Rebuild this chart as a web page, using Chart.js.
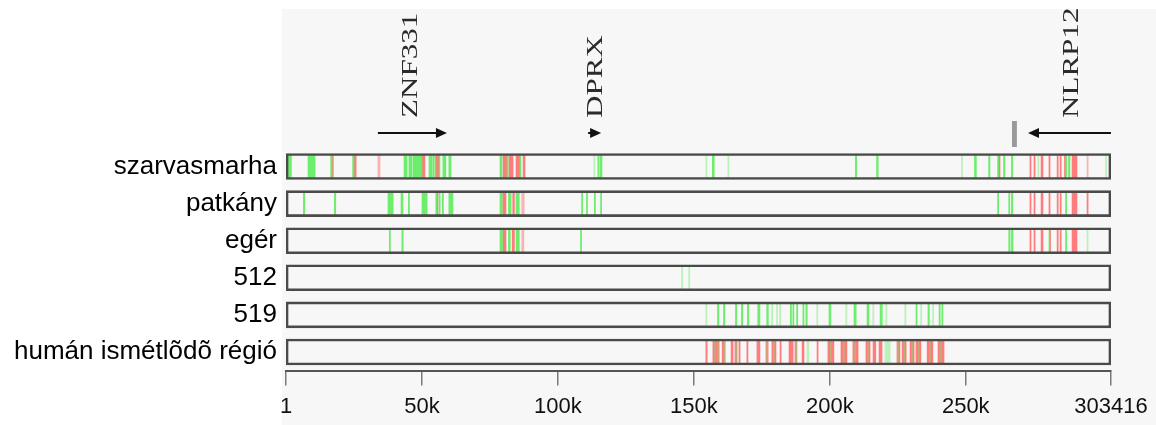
<!DOCTYPE html>
<html>
<head>
<meta charset="utf-8">
<script src="https://cdn.jsdelivr.net/npm/chart.js@4.4.1/dist/chart.umd.min.js"></script>
<style>
  html, body { margin: 0; padding: 0; background: #fff; }
  #wrap { width: 1156px; height: 425px; }
</style>
</head>
<body>
<div id="wrap"><canvas id="track-chart" width="1156" height="425"></canvas></div>
<script>
// rows (tracks), top to bottom
const rows = ['szarvasmarha', 'patkány', 'egér', '512', '519', 'humán ismétlõdõ régió'];

// axis
const xMin = 1;
const xMax = 303416;
const tickValues = [1, 50000, 100000, 150000, 200000, 250000, 303416];
const tickLabels = ['1', '50k', '100k', '150k', '200k', '250k', '303416'];

// genes above the tracks (arrow from -> to, in bp)
const geneNames = ['ZNF331', 'DPRX', 'NLRP12'];
const geneFrom = [33800, 111100, 303400];
const geneTo = [59200, 115900, 272900];
const geneLabelAt = [48200, 116200, 291300];
const markerSpan = [267000, 268800];

// hits per track, [start, end] in kb
const bovGreen = [[0.3, 2.0], [8.1, 10.7], [16.4, 16.9], [24.5, 25.0], [43.4, 44.5], [45.2, 46.3], [46.7, 50.0],
  [52.6, 53.7], [54.0, 54.5], [54.8, 55.1], [56.3, 56.6], [57.7, 58.8], [59.9, 60.7], [78.7, 79.4], [81.3, 81.7],
  [86.0, 86.4], [114.7, 115.2], [115.6, 116.2], [156.8, 157.5], [209.4, 209.9], [217.2, 217.8], [253.2, 253.9],
  [258.4, 258.9], [261.7, 262.1], [263.9, 264.4], [266.8, 267.3], [286.7, 287.1], [287.8, 288.3]];
const bovRed = [[17.0, 17.4], [25.0, 25.8], [50.0, 51.1], [55.1, 56.3], [79.8, 81.3], [82.0, 83.5], [84.6, 86.0],
  [87.2, 87.9], [262.1, 262.6], [273.6, 274.0], [275.1, 275.5], [277.7, 278.4], [280.6, 281.0], [283.6, 284.0],
  [284.7, 285.1], [286.3, 286.7], [289.1, 290.9]];
const bovFaintGreen = [[113.2, 113.6], [154.4, 154.8], [162.5, 162.9], [248.4, 248.8], [276.5, 276.9], [301.4, 301.8]];
const bovFaintRed = [[33.8, 34.6], [294.6, 295.0]];

const ratGreen = [[6.4, 6.9], [17.8, 18.3], [37.5, 39.4], [42.3, 43.0], [45.0, 45.4], [50.0, 51.9], [55.1, 55.5],
  [56.3, 56.7], [57.5, 57.9], [59.9, 61.4], [78.7, 79.5], [81.8, 82.8], [84.6, 85.8], [108.7, 109.1], [110.5, 110.9],
  [113.4, 113.8], [115.7, 116.1], [261.7, 262.1], [265.8, 266.2], [266.8, 267.3], [286.7, 287.1]];
const ratRed = [[55.5, 55.9], [79.7, 80.9], [83.4, 84.0], [273.6, 274.0], [275.1, 275.5], [277.7, 278.4], [280.6, 281.0],
  [283.6, 284.0], [284.7, 285.1], [289.1, 290.9], [294.6, 295.0]];
const ratFaintRed = [[86.7, 87.6]];

const miceGreen = [[38.0, 38.4], [42.6, 43.1], [78.7, 79.6], [81.8, 82.5], [84.6, 85.8], [108.3, 108.7], [265.8, 266.3],
  [266.8, 267.4], [280.6, 280.9], [286.7, 287.1]];
const miceRed = [[79.7, 80.9], [83.2, 84.0], [273.6, 274.0], [275.1, 275.5], [277.7, 278.4], [280.9, 281.2], [283.6, 284.0],
  [284.7, 285.1], [289.1, 290.9]];
const miceFaintGreen = [[294.6, 295.0]];
const miceFaintRed = [[86.7, 87.5]];

const c512FaintGreen = [[145.5, 145.9], [148.1, 148.5]];

const c519Green = [[158.7, 159.2], [160.9, 161.4], [165.3, 165.8], [167.5, 168.0], [169.7, 170.2], [173.5, 174.3],
  [176.8, 177.4], [185.5, 185.9], [186.4, 186.8], [187.8, 188.2], [190.1, 190.5], [191.2, 191.7], [199.7, 200.4],
  [208.9, 209.2], [209.4, 209.7], [213.7, 214.4], [218.5, 218.8], [219.0, 219.3], [231.7, 232.1], [236.1, 236.6],
  [240.2, 240.6], [241.2, 241.6]];
const c519FaintGreen = [[154.4, 154.8], [178.6, 179.0], [180.4, 180.8], [181.5, 181.9], [195.2, 195.6], [205.9, 206.3],
  [215.8, 216.2], [220.6, 221.0], [227.6, 228.0], [233.4, 233.8], [237.8, 238.2]];

const humRed = [[154.4, 154.9], [157.0, 159.3], [160.4, 161.5], [163.7, 164.4], [165.1, 165.9], [166.6, 167.0],
  [169.5, 169.9], [173.2, 174.3], [176.5, 177.3], [178.7, 180.2], [181.7, 182.1], [185.0, 186.5], [187.2, 187.9],
  [189.8, 190.5], [195.3, 195.7], [199.3, 201.5], [204.1, 206.3], [208.5, 210.4], [213.3, 214.8], [215.9, 216.9],
  [218.1, 219.2], [224.7, 225.8], [226.6, 228.1], [229.5, 231.0], [231.7, 233.5], [235.8, 237.9], [239.8, 242.0]];
const humFaintGreen = [[157.6, 158.0], [158.6, 159.0], [161.0, 161.4], [165.3, 165.7], [176.8, 177.2], [179.2, 179.6],
  [187.4, 187.8], [191.6, 192.3], [200.2, 200.6], [205.0, 205.4], [209.1, 209.5], [213.8, 214.2], [220.3, 222.2],
  [225.0, 225.4], [227.2, 227.6], [230.1, 230.5], [232.4, 232.8], [236.6, 237.0], [240.6, 241.0]];

function marks(row, spans) {
    return spans.map(s => ({ x: [s[0] * 1000, s[1] * 1000], y: rows[row] }));
}

const greenData = [].concat(marks(0, bovGreen), marks(1, ratGreen), marks(2, miceGreen), marks(4, c519Green));
const redData = [].concat(marks(0, bovRed), marks(1, ratRed), marks(2, miceRed), marks(5, humRed));
const faintGreenData = [].concat(marks(0, bovFaintGreen), marks(2, miceFaintGreen), marks(3, c512FaintGreen),
  marks(4, c519FaintGreen), marks(5, humFaintGreen));
const faintRedData = [].concat(marks(0, bovFaintRed), marks(1, ratFaintRed), marks(2, miceFaintRed));
const frameData = rows.map(r => ({ x: [xMin, xMax], y: r }));

// grey backdrop behind the plot part
const backdrop = {
    id: 'backdrop',
    beforeDraw(chart) {
        const c = chart.ctx;
        c.save();
        c.fillStyle = '#ffffff';
        c.fillRect(0, 0, chart.width, chart.height);
        c.fillStyle = '#f7f7f7';
        c.fillRect(282, 9, chart.width - 282, chart.height - 9);
        c.restore();
    }
};

// gene arrows + rotated names
const genes = {
    id: 'genes',
    afterDraw(chart) {
        const c = chart.ctx;
        const xs = chart.scales.x;
        const ay = 133;
        c.save();
        c.strokeStyle = '#111';
        c.fillStyle = '#111';
        c.lineWidth = 2;
        geneNames.forEach((name, i) => {
            const x1 = xs.getPixelForValue(geneFrom[i]);
            const x2 = xs.getPixelForValue(geneTo[i]);
            const dir = x2 > x1 ? 1 : -1;
            c.beginPath();
            c.moveTo(x1, ay);
            c.lineTo(x2 - dir * 8, ay);
            c.stroke();
            c.beginPath();
            c.moveTo(x2, ay);
            c.lineTo(x2 - dir * 11, ay - 5);
            c.lineTo(x2 - dir * 11, ay + 5);
            c.closePath();
            c.fill();

            c.save();
            c.translate(xs.getPixelForValue(geneLabelAt[i]), 118);
            c.rotate(-Math.PI / 2);
            c.scale(1.35, 1);
            c.fillStyle = '#2a2a2a';
            c.font = '23px "Liberation Serif", "DejaVu Serif", serif';
            c.textAlign = 'left';
            c.textBaseline = 'alphabetic';
            c.fillText(name, 0, 0);
            c.restore();
        });
        const m1 = xs.getPixelForValue(markerSpan[0]);
        const m2 = xs.getPixelForValue(markerSpan[1]);
        c.fillStyle = '#9a9a9a';
        c.fillRect(m1, 121, m2 - m1, 26);
        c.restore();
    }
};

document.addEventListener('DOMContentLoaded', function() {
    const ctx = document.getElementById('track-chart');

    new Chart(ctx, {
        type: 'bar',
        data: {
            labels: rows,
            datasets: [
                {
                    label: 'frame',
                    data: frameData,
                    backgroundColor: 'rgba(0, 0, 0, 0)',
                    borderColor: '#4a4a4a',
                    borderWidth: { top: 2, left: 2, right: 2, bottom: 2 },
                    borderSkipped: false,
                    barThickness: 26
                },
                {
                    label: 'green',
                    data: greenData,
                    backgroundColor: 'rgba(95, 235, 95, 0.92)',
                    barThickness: 22
                },
                {
                    label: 'faint green',
                    data: faintGreenData,
                    backgroundColor: 'rgba(110, 235, 110, 0.45)',
                    barThickness: 22
                },
                {
                    label: 'red',
                    data: redData,
                    backgroundColor: 'rgba(255, 110, 110, 0.9)',
                    barThickness: 22
                },
                {
                    label: 'faint red',
                    data: faintRedData,
                    backgroundColor: 'rgba(255, 110, 110, 0.5)',
                    barThickness: 22
                }
            ]
        },
        options: {
            indexAxis: 'y',
            responsive: false,
            animation: false,
            events: [],
            layout: {
                padding: { top: 148, left: 0, right: 45, bottom: 0 }
            },
            datasets: {
                bar: { grouped: false }
            },
            plugins: {
                legend: { display: false },
                tooltip: { enabled: false }
            },
            scales: {
                x: {
                    type: 'linear',
                    min: xMin,
                    max: xMax,
                    afterBuildTicks: function(scale) {
                        scale.ticks = tickValues.map(v => ({ value: v }));
                    },
                    afterFit: function(scale) {
                        scale.height = 54.5;
                    },
                    grid: {
                        drawOnChartArea: false,
                        tickLength: 15,
                        color: '#7a7a7a',
                        lineWidth: 1.5
                    },
                    border: {
                        color: '#555',
                        width: 2
                    },
                    ticks: {
                        autoSkip: false,
                        maxRotation: 0,
                        padding: 8,
                        color: '#111',
                        font: { family: '"Liberation Sans", Arial, sans-serif', size: 22 },
                        callback: function(value, index) {
                            return tickLabels[index];
                        }
                    }
                },
                y: {
                    type: 'category',
                    labels: rows,
                    offset: true,
                    afterFit: function(scale) {
                        scale.width = 286;
                    },
                    grid: { display: false, drawTicks: false },
                    border: { display: false },
                    ticks: {
                        padding: 9,
                        color: '#000',
                        font: { family: '"Liberation Sans", Arial, sans-serif', size: 26 }
                    }
                }
            }
        },
        plugins: [backdrop, genes]
    });
});
</script>
</body>
</html>
